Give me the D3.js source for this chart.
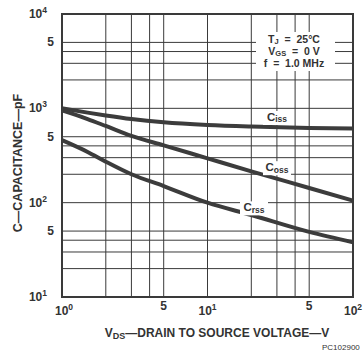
<!DOCTYPE html>
<html>
<head>
<meta charset="utf-8">
<script src="https://cdn.jsdelivr.net/npm/d3@7"></script>
<style>
  body { margin: 0; background: #fff; }
  svg text { font-family: "Liberation Sans", Arial, sans-serif; font-weight: bold; fill: #333; white-space: pre; }
</style>
</head>
<body>
<div id="chart"></div>
<script>
// drain-source voltage (V) where each curve was read
const vds = [1, 1.5, 2, 3, 5, 10, 20, 50, 100];
// capacitances (pF)
const ciss = [1000, 900, 840, 770, 710, 665, 640, 620, 610];
const coss = [950, 770, 650, 510, 405, 295, 215, 143, 105];
const crss = [460, 345, 272, 200, 150, 100, 74, 49, 38];

const xGrid = [2, 3, 4, 5, 10, 20, 30, 40, 50];
const yGrid = [20, 30, 40, 50, 100, 200, 300, 400, 500, 1000, 2000, 3000, 4000, 5000];
const xTicks = [1, 5, 10, 50, 100];
const yTicks = [10, 50, 100, 500, 1000, 5000, 10000];

const conditions = [
  [['T', ''], ['J', 'sub'], ['  =  25°C', '']],
  [['V', ''], ['GS', 'sub'], ['  =  0 V', '']],
  [['f  =  1.0 MHz', '']]
];
const curveNames = [['C', 'iss'], ['C', 'oss'], ['C', 'rss']];
// value (pF) at which each curve label is centred
const labelVal = [790, 232, 87];

const W = 364, H = 353;
const svg = d3.select('#chart').append('svg')
  .attr('width', W).attr('height', H);

const x = d3.scaleLog().domain([1, 100]).range([62, 353]);
const y = d3.scaleLog().domain([10, 10000]).range([297, 14]);

const lineColor = '#3a3a3a';

// grid
svg.append('g').selectAll('line').data(xGrid).join('line')
  .attr('x1', d => x(d)).attr('x2', d => x(d))
  .attr('y1', y.range()[1]).attr('y2', y.range()[0])
  .attr('stroke', lineColor).attr('stroke-width', 1);
svg.append('g').selectAll('line').data(yGrid).join('line')
  .attr('y1', d => y(d)).attr('y2', d => y(d))
  .attr('x1', x.range()[0]).attr('x2', x.range()[1])
  .attr('stroke', lineColor).attr('stroke-width', 1);

// frame
svg.append('rect')
  .attr('x', x.range()[0]).attr('y', y.range()[1])
  .attr('width', x.range()[1] - x.range()[0])
  .attr('height', y.range()[0] - y.range()[1])
  .attr('fill', 'none').attr('stroke', lineColor).attr('stroke-width', 2);

// curves
const line = d3.line()
  .x((d, i) => x(vds[i]))
  .y(d => y(d))
  .curve(d3.curveMonotoneX);

svg.append('g').selectAll('path').data([ciss, coss, crss]).join('path')
  .attr('d', line)
  .attr('fill', 'none')
  .attr('stroke', '#3c3c3c')
  .attr('stroke-width', 4);

// test conditions block, sitting on the grid with a white mask
svg.append('rect').attr('x', 256).attr('y', 32).attr('width', 79).attr('height', 39).attr('fill', '#fff');
const condBase = [43, 55, 67];
conditions.forEach((parts, i) => {
  const t = svg.append('text')
    .attr('x', 294).attr('y', condBase[i])
    .attr('text-anchor', 'middle')
    .attr('font-size', 10.5);
  parts.forEach((p, j) => {
    const ts = t.append('tspan').text(p[0]);
    if (p[1] === 'sub') ts.attr('font-size', 7.5).attr('dy', 1);
    else if (j > 0 && parts[j - 1][1] === 'sub') ts.attr('dy', -1);
  });
});

// curve labels
const labelX = [277, 277, 254];
curveNames.forEach((n, i) => {
  const lx = labelX[i], ly = y(labelVal[i]);
  svg.append('rect').attr('x', lx - 14).attr('y', ly - 7).attr('width', 28).attr('height', 14).attr('fill', '#fff');
  const t = svg.append('text').attr('x', lx).attr('y', ly + 3).attr('text-anchor', 'middle').attr('font-size', 11.5);
  t.append('tspan').text(n[0]);
  t.append('tspan').text(n[1]).attr('font-size', 8.5).attr('dy', 1.5);
});

// tick labels
function powLabel(v) {
  const e = Math.log10(v);
  return Math.abs(e - Math.round(e)) < 1e-6 ? ['10', String(Math.round(e))] : [String(Math.round(v / Math.pow(10, Math.floor(e)))), null];
}

yTicks.forEach(v => {
  const [b, e] = powLabel(v);
  const t = svg.append('text').attr('x', e ? 47 : 54).attr('y', y(v) + 4).attr('text-anchor', 'end').attr('font-size', 12);
  t.append('tspan').text(b);
  if (e) t.append('tspan').text(e).attr('font-size', 8.5).attr('dy', -5);
});

xTicks.forEach(v => {
  const [b, e] = powLabel(v);
  const t = svg.append('text').attr('x', x(v) + (v === 1 ? 2 : 0)).attr('y', e ? 315 : 310).attr('text-anchor', 'middle').attr('font-size', 12);
  t.append('tspan').text(b);
  if (e) t.append('tspan').text(e).attr('font-size', 8.5).attr('dy', -5);
});

// axis titles
svg.append('text')
  .attr('transform', 'translate(22,163) rotate(-90)')
  .attr('text-anchor', 'middle').attr('font-size', 12.5)
  .text('C—CAPACITANCE—pF');

const xt = svg.append('text').attr('x', 217).attr('y', 337).attr('text-anchor', 'middle').attr('font-size', 12);
xt.append('tspan').text('V');
xt.append('tspan').text('DS').attr('font-size', 9).attr('dy', 2);
xt.append('tspan').text('—DRAIN TO SOURCE VOLTAGE—V').attr('dy', -2);

svg.append('text').attr('x', 322).attr('y', 350).attr('font-size', 8)
  .style('font-weight', 'normal').text('PC102900');
</script>
</body>
</html>
